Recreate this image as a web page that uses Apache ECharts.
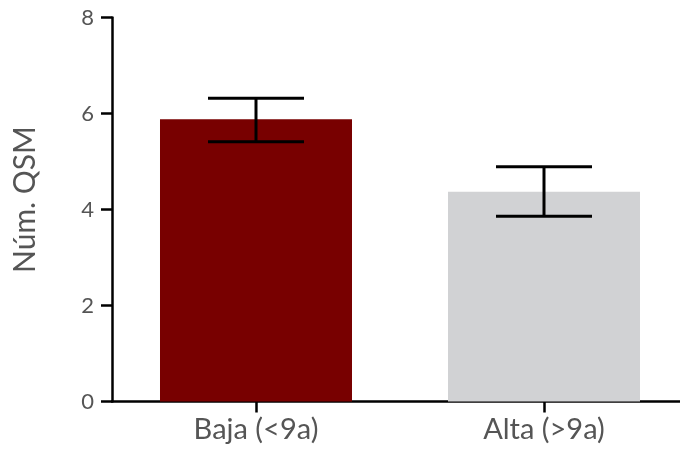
<!DOCTYPE html>
<html><head><meta charset="utf-8">
<script src="https://cdn.jsdelivr.net/npm/echarts@6/dist/echarts.min.js"></script>
<style>html,body{margin:0;padding:0;background:#fff}#c{width:680px;height:450px}</style>
</head><body><div id="c"></div>
<script>
const categories = ['Baja (<9a)', 'Alta (>9a)'];
const means = [5.88, 4.37];
const errLow = [5.41, 3.86];
const errHigh = [6.32, 4.89];
const yTicks = [0, 2, 4, 6, 8];
const barColors = ['#780000', '#d1d2d4'];

const chart = echarts.init(document.getElementById('c'));
const font = 'Lato';
chart.setOption({
  animation: false,
  grid: { left: 112, width: 576, top: 17.5, height: 384, containLabel: false, outerBoundsMode: 'none' },
  xAxis: {
    type: 'category', data: categories,
    axisLine: { lineStyle: { color: '#000', width: 2.5 } },
    axisTick: { show: true, alignWithLabel: true, length: 11, lineStyle: { color: '#000', width: 2.5 } },
    axisLabel: { color: '#555', fontFamily: font, fontSize: 29, margin: 14 }
  },
  yAxis: {
    type: 'value', min: yTicks[0], max: yTicks[yTicks.length - 1], interval: 2,
    splitLine: { show: false },
    axisLine: { show: true, lineStyle: { color: '#000', width: 2.5 } },
    axisTick: { show: true, inside: false, length: 11, lineStyle: { color: '#000', width: 2.5 } },
    axisLabel: { color: '#555', fontFamily: font, fontSize: 22, margin: 18 },
    name: 'Núm. QSM', nameLocation: 'middle', nameGap: 72, nameRotate: 90,
    nameTextStyle: { color: '#555', fontFamily: font, fontSize: 30, padding: [0, 0, 0, 20] }
  },
  series: [
    {
      type: 'bar', barCategoryGap: '33.3333%',
      data: means.map((v, i) => ({ value: v, itemStyle: { color: barColors[i] } }))
    },
    {
      type: 'custom',
      data: means.map((v, i) => [i, errLow[i], errHigh[i]]),
      renderItem: function (params, api) {
        const i = api.value(0);
        const lo = api.coord([i, api.value(1)]);
        const hi = api.coord([i, api.value(2)]);
        const half = api.size([1, 0])[0] / 6;
        const st = { stroke: '#000', lineWidth: 3 };
        return {
          type: 'group', children: [
            { type: 'line', shape: { x1: lo[0], y1: lo[1], x2: hi[0], y2: hi[1] }, style: st },
            { type: 'line', shape: { x1: hi[0] - half, y1: hi[1], x2: hi[0] + half, y2: hi[1] }, style: st },
            { type: 'line', shape: { x1: lo[0] - half, y1: lo[1], x2: lo[0] + half, y2: lo[1] }, style: st }
          ]
        };
      },
      z: 10
    }
  ]
});
</script></body></html>
